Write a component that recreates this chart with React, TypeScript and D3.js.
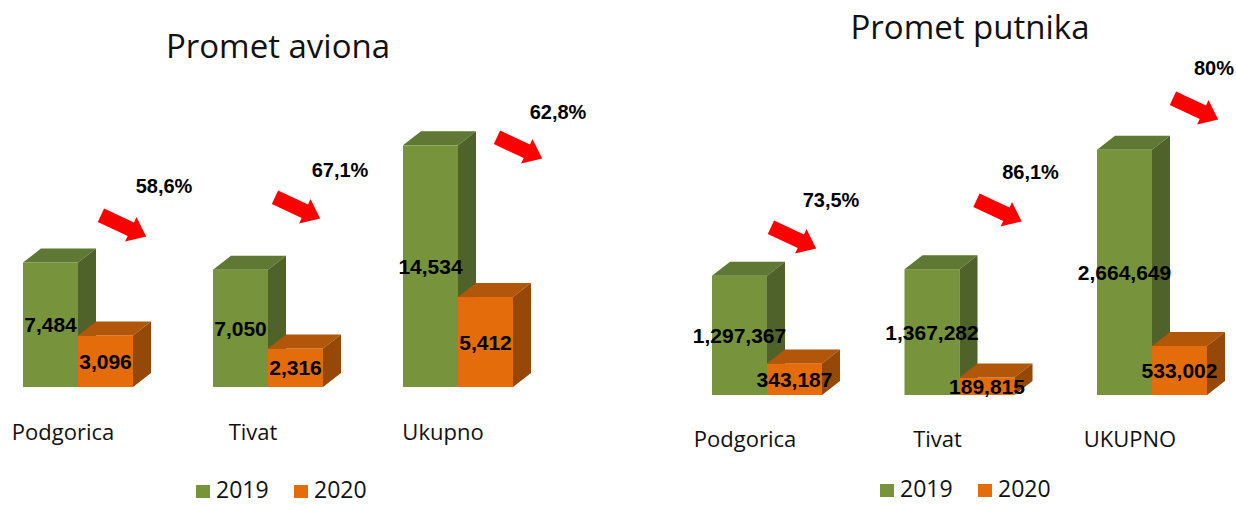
import React from "react";
import * as d3 from "d3";

// Promet aviona (left panel)
const aviCategories = ["Podgorica", "Tivat", "Ukupno"];
const avi2019 = [7484, 7050, 14534];
const avi2020 = [3096, 2316, 5412];
const aviDrop = ["58,6%", "67,1%", "62,8%"];

// Promet putnika (right panel)
const putCategories = ["Podgorica", "Tivat", "UKUPNO"];
const put2019 = [1297367, 1367282, 2664649];
const put2020 = [343187, 189815, 533002];
const putDrop = ["73,5%", "86,1%", "80%"];

const years = ["2019", "2020"];

const W = 1236;
const H = 506;
const BAR_W = 55;
const DX = 18;
const DY = -14;

const FUTURA = "'Open Sans', 'DejaVu Sans', sans-serif";
const BOLD = "'Liberation Sans', Arial, sans-serif";

const shades = [
  { front: "#77933c", top: "#5f7833", side: "#4e6229" },
  { front: "#e46c0a", top: "#b25609", side: "#954807" },
];

const fmt = d3.format(",");

// red "decline" arrow, centred on its bounding box
const arrowPath = (() => {
  const L = 50, hs = 7.5, hh = 13.5, hl = 17;
  const a = (25 * Math.PI) / 180;
  const pts: [number, number][] = [
    [0, -hs], [L - hl, -hs], [L - hl, -hh], [L, 0], [L - hl, hh], [L - hl, hs], [0, hs],
  ].map(([x, y]) => [x * Math.cos(a) - y * Math.sin(a), x * Math.sin(a) + y * Math.cos(a)]);
  const xs = d3.extent(pts, (p) => p[0]) as [number, number];
  const ys = d3.extent(pts, (p) => p[1]) as [number, number];
  const cx = (xs[0] + xs[1]) / 2, cy = (ys[0] + ys[1]) / 2;
  return "M" + pts.map(([x, y]) => `${(x - cx).toFixed(1)},${(y - cy).toFixed(1)}`).join("L") + "Z";
})();

type Panel = {
  title: string;
  categories: string[];
  series: number[][];
  drops: string[];
  xRange: [number, number];
  yMax: number;
  yRange: [number, number];
  titleX: number;
  titleY: number;
  catDx: number;
  catY: number;
  legendX: number;
  legendY: number;
  arrowDx: number[];
  arrowY: number[];
  dropDx: number[];
  dropY: number[];
};

const panels: Panel[] = [
  {
    title: "Promet aviona",
    categories: aviCategories,
    series: [avi2019, avi2020],
    drops: aviDrop,
    xRange: [78, 458],
    yMax: 16000,
    yRange: [387, 121],
    titleX: 278,
    titleY: 58,
    catDx: -15,
    catY: 440,
    legendX: 196,
    legendY: 485,
    arrowDx: [44, 28, 60],
    arrowY: [225, 207, 147],
    dropDx: [86, 72, 100],
    dropY: [186, 170, 112],
  },
  {
    title: "Promet putnika",
    categories: putCategories,
    series: [put2019, put2020],
    drops: putDrop,
    xRange: [767, 1152],
    yMax: 3000000,
    yRange: [395, 119],
    titleX: 970,
    titleY: 39,
    catDx: -22,
    catY: 447,
    legendX: 880,
    legendY: 484,
    arrowDx: [25, 38, 42],
    arrowY: [237, 210, 108],
    dropDx: [64, 71, 62],
    dropY: [200, 172, 68],
  },
];

function Bar3D({ x, y0, y1, c }: { x: number; y0: number; y1: number; c: typeof shades[0] }) {
  return (
    <g>
      <rect x={x} y={y1} width={BAR_W} height={y0 - y1} fill={c.front} />
      <path
        d={`M${x},${y1}L${x + DX},${y1 + DY}L${x + BAR_W + DX},${y1 + DY}L${x + BAR_W},${y1}Z`}
        fill={c.top}
      />
      <path
        d={`M${x + BAR_W},${y1}L${x + BAR_W + DX},${y1 + DY}L${x + BAR_W + DX},${y0 + DY}L${x + BAR_W},${y0}Z`}
        fill={c.side}
      />
    </g>
  );
}

function ChartPanel({ p }: { p: Panel }) {
  const x = d3.scalePoint<string>().domain(p.categories).range(p.xRange);
  const y = d3.scaleLinear().domain([0, p.yMax]).range(p.yRange);
  const y0 = y(0);

  return (
    <g>
      <text x={p.titleX} y={p.titleY} textAnchor="middle" fontFamily={FUTURA} fontSize={33} fill="#111">
        {p.title}
      </text>

      {p.categories.map((cat, i) => {
        const cx = x(cat) as number;
        return (
          <g key={cat}>
            {p.series.map((vals, s) => (
              <Bar3D key={s} x={cx - BAR_W + s * BAR_W} y0={y0} y1={y(vals[i])} c={shades[s]} />
            ))}
            {p.series.map((vals, s) => (
              <text
                key={"l" + s}
                x={cx - BAR_W / 2 + s * BAR_W}
                y={(y0 + y(vals[i])) / 2}
                dy="0.36em"
                textAnchor="middle"
                fontFamily={BOLD}
                fontWeight="bold"
                fontSize={21}
                fill="#000"
              >
                {fmt(vals[i])}
              </text>
            ))}
            <path d={arrowPath} transform={`translate(${cx + p.arrowDx[i]},${p.arrowY[i]})`} fill="#ff0000" />
            <text
              x={cx + p.dropDx[i]}
              y={p.dropY[i]}
              dy="0.36em"
              textAnchor="middle"
              fontFamily={BOLD}
              fontWeight="bold"
              fontSize={20}
              fill="#000"
            >
              {p.drops[i]}
            </text>
            <text x={cx + p.catDx} y={p.catY} textAnchor="middle" fontFamily={FUTURA} fontSize={22} fill="#111">
              {cat}
            </text>
          </g>
        );
      })}

      {years.map((yr, s) => (
        <g key={yr} transform={`translate(${p.legendX + s * 98},${p.legendY})`}>
          <rect width={14} height={13} fill={shades[s].front} />
          <text x={20} y={13} fontFamily={FUTURA} fontSize={23} fill="#111">
            {yr}
          </text>
        </g>
      ))}
    </g>
  );
}

export default function App() {
  return (
    <svg width={W} height={H} style={{ position: "absolute", left: 0, top: 0, background: "#fff" }}>
      <rect width={W} height={H} fill="#fff" />
      {panels.map((p) => (
        <ChartPanel key={p.title} p={p} />
      ))}
    </svg>
  );
}
